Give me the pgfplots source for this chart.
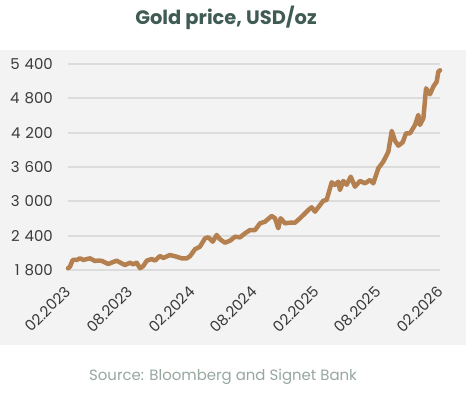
\documentclass[border=0pt]{standalone}
\usepackage{pgfplots}
\pgfplotsset{compat=1.18}
\usepackage{fontspec}
\setmainfont{Poppins}
\definecolor{bgc}{HTML}{F3F3F3}
\definecolor{gridc}{HTML}{DCDCDC}
\definecolor{linec}{HTML}{B5804F}
\definecolor{titlec}{HTML}{3F5B53}
\definecolor{tickc}{HTML}{3A3A3A}
\definecolor{srcc}{HTML}{97A89F}
\begin{document}
\begin{tikzpicture}[x=1bp,y=1bp]
\path[use as bounding box] (0,0) rectangle (466,395);
\fill[white] (0,0) rectangle (466,395);
\fill[bgc] (0,50) rectangle (466,345);
\node[font=\fontsize{19.5}{22}\selectfont\bfseries, text=titlec] at (226,377) {Gold price, USD/oz};
\node[font=\fontsize{15}{18}\selectfont, text=srcc] at (223,18) {Source: Bloomberg and Signet Bank};
\begin{axis}[
  at={(68bp,125bp)}, anchor=south west,
  scale only axis, width=372bp, height=206bp,
  xmin=0, xmax=36, ymin=1800, ymax=5400,
  axis line style={draw=none},
  major tick length=0pt,
  clip=false,
  ymajorgrids, grid style={color=gridc, line width=2bp},
  ytick={1800,2400,3000,3600,4200,4800,5400},
  yticklabels={1\,\,800,2\,\,400,3\,\,000,3\,\,600,4\,\,200,4\,\,800,5\,\,400},
  xtick={0,6,12,18,24,30,36},
  xticklabels={02.2023,08.2023,02.2024,08.2024,02.2025,08.2025,02.2026},
  yticklabel style={font=\fontsize{15}{17}\selectfont, text=tickc, anchor=east, inner sep=0pt, xshift=-15bp},
  xticklabel shift=19bp,
  xticklabel style={font=\fontsize{15}{17}\selectfont, text=tickc, rotate=45, anchor=east, inner sep=0pt},
]
\addplot[color=linec, line width=4.5bp, line join=round, line cap=round] coordinates {
(0.00,1830) (0.19,1858) (0.45,1975) (0.84,1975) (1.16,2004) (1.48,1975) (1.80,1990)
(2.13,2004) (2.61,1957) (2.95,1965) (3.26,1960) (3.90,1905) (4.30,1935) (4.71,1963)
(5.10,1925) (5.52,1887) (6.00,1928) (6.32,1900) (6.65,1928) (6.97,1830) (7.29,1870)
(7.62,1963) (8.10,1992) (8.42,1965) (8.90,2045) (9.22,2010) (9.87,2062) (10.52,2032)
(11.00,2004) (11.49,2004) (11.80,2040) (12.29,2163) (12.77,2208) (13.26,2354) (13.58,2371)
(14.00,2295) (14.39,2412) (14.71,2337) (15.19,2277) (15.68,2312) (16.16,2382) (16.65,2371)
(17.13,2441) (17.61,2499) (18.10,2499) (18.58,2616) (19.06,2644) (19.71,2744) (20.03,2704)
(20.35,2529) (20.58,2704) (21.00,2616) (21.48,2627) (21.97,2627) (22.45,2704) (22.94,2791)
(23.26,2849) (23.58,2896) (23.90,2820) (24.39,2936) (24.71,3011) (25.03,3024) (25.52,3333)
(25.84,3286) (26.16,3344) (26.32,3198) (26.64,3356) (26.97,3290) (27.36,3431) (27.77,3256)
(28.26,3356) (28.74,3315) (29.23,3373) (29.55,3315) (30.03,3578) (30.51,3693) (31.00,3868)
(31.33,4230) (31.65,4055) (31.97,3973) (32.39,4032) (32.71,4189) (33.10,4189) (33.58,4335)
(33.90,4509) (34.06,4335) (34.39,4452) (34.65,4976) (35.03,4871) (35.35,5004) (35.68,5091)
(35.84,5266) (36.00,5290)
};
\end{axis}
\end{tikzpicture}
\end{document}
